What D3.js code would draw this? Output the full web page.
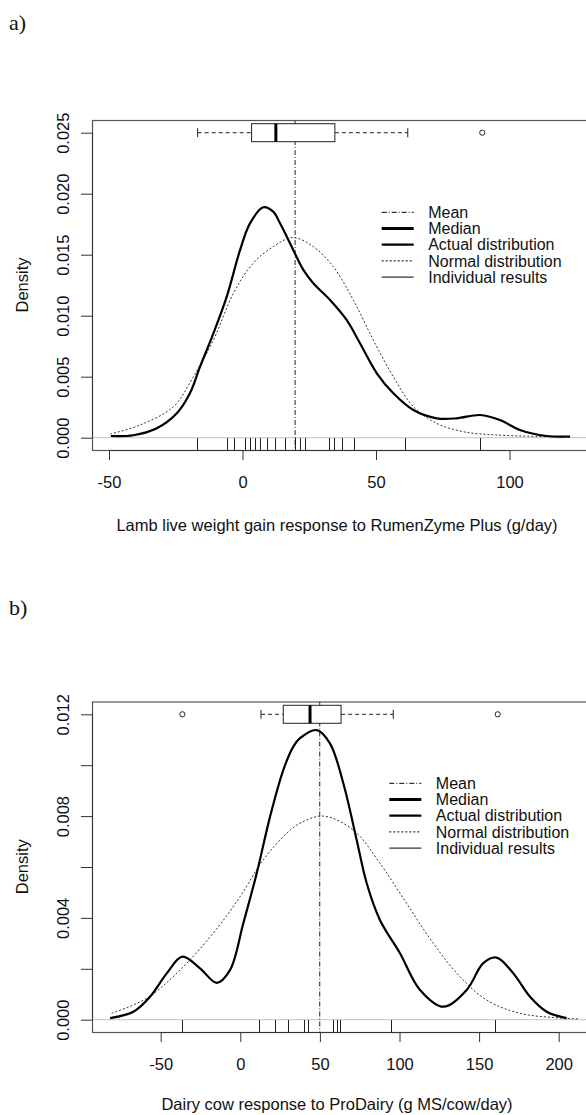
<!DOCTYPE html>
<html>
<head>
<meta charset="utf-8">
<script src="https://cdn.jsdelivr.net/npm/d3@7"></script>
<style>
  body { margin: 0; background: #fff; }
  svg { display: block; }
  text { font-family: "Liberation Sans", Arial, sans-serif; fill: #111; }
</style>
</head>
<body>
<svg id="chart" width="586" height="1115"></svg>
<script>
// ---- panel a) lamb live weight gain ----
const aRug = [-16.9, -5.9, -3.2, 1.0, 2.9, 4.6, 6.4, 9.1, 12.2, 16.0, 19.6, 21.4, 23.3, 32.3, 34.3, 37.3, 41.8, 60.9, 88.8];
const aMean = 19.7;
// whisker low, hinge low, median, hinge high, whisker high
const aBox = [-16.8, 3.4, 12.5, 34.6, 61.9];
const aOutliers = [89.8];
const aDensX = [-49.3, -40.9, -32.1, -24.6, -19.7, -15.9, -10.9, -5.9, -0.9, 2.8, 7.8, 11.5, 14.0, 16.6, 19.0, 22.8, 26.5, 32.8, 39.0, 44.0, 50.3, 56.5, 64.0, 72.7, 80.2, 89.0, 96.4, 103.9, 113.9, 122.7];
const aDensY = [0.00014, 0.0002, 0.00077, 0.002, 0.00364, 0.00582, 0.00856, 0.01156, 0.01539, 0.01757, 0.01889, 0.01853, 0.0176, 0.01648, 0.01539, 0.01375, 0.01266, 0.01129, 0.00965, 0.00774, 0.00528, 0.00364, 0.00227, 0.00159, 0.00159, 0.00186, 0.00145, 0.00063, 0.00014, 0.0001];
const aNormX = [-49.6, -38.4, -25.9, -18.4, -10.9, -3.4, 4.0, 11.5, 19.0, 26.5, 34.0, 41.5, 49.0, 56.5, 64.0, 72.7, 82.7, 95.2, 122.7];
const aNormY = [0.0003, 0.00104, 0.00254, 0.005, 0.008, 0.01184, 0.0143, 0.01566, 0.0164, 0.01566, 0.01402, 0.01129, 0.008, 0.005, 0.00254, 0.00118, 0.00049, 0.00022, 0.00005];
const aXTicks = [-50, 0, 50, 100];
const aYTicks = [0, 0.005, 0.01, 0.015, 0.02, 0.025];
const aYLabels = [0, 0.005, 0.01, 0.015, 0.02, 0.025];

// ---- panel b) dairy cow response ----
const bRug = [-36.4, 11.9, 22.0, 30.0, 40.2, 42.5, 58.2, 60.7, 62.6, 94.8, 160.2];
const bMean = 49.9;
const bBox = [13.0, 27.0, 43.8, 63.3, 96.1];
const bOutliers = [-36.4, 161.7];
const bDensX = [-81.8, -67.2, -56.7, -46.2, -36.4, -25.3, -14.8, -6.5, 1.9, 10.3, 18.7, 27.0, 33.3, 37.5, 48.0, 56.3, 64.7, 73.1, 79.4, 87.7, 100.3, 112.9, 127.5, 142.2, 152.6, 161.0, 171.5, 182.0, 192.5, 205.0];
const bDensY = [0.00006, 0.00031, 0.0009, 0.00182, 0.00248, 0.00202, 0.00145, 0.00195, 0.00379, 0.00575, 0.00798, 0.00981, 0.01073, 0.01106, 0.01138, 0.01086, 0.00929, 0.00706, 0.00536, 0.00392, 0.00261, 0.00117, 0.00051, 0.00117, 0.00222, 0.00244, 0.00182, 0.0009, 0.00031, 0.00006];
const bNormX = [-80.8, -58.8, -37.9, -17.0, -0.2, 14.4, 29.1, 37.5, 52.1, 71.0, 87.7, 104.5, 121.2, 138.0, 154.8, 175.7, 202.9, 213.0];
const bNormY = [0.00025, 0.00084, 0.00195, 0.0034, 0.00483, 0.00628, 0.00732, 0.00772, 0.008, 0.00745, 0.00615, 0.00457, 0.003, 0.00169, 0.00077, 0.00025, 0.00006, 0.00003];
const bXTicks = [-50, 0, 50, 100, 150, 200];
const bYTicks = [0, 0.002, 0.004, 0.006, 0.008, 0.01, 0.012];
const bYLabels = [0, 0.004, 0.008, 0.012];

const legendLabels = ["Mean", "Median", "Actual distribution", "Normal distribution", "Individual results"];
const legendStyles = [
  {w: 1, dash: "5,2,1,2"},
  {w: 3.2, dash: null},
  {w: 2.2, dash: null},
  {w: 1, dash: "2,2"},
  {w: 1, dash: null}
];

const svg = d3.select("#chart");
const fmt = d3.format(".3f");

function drawPanel(p) {
  const g = svg.append("g");
  const x = d3.scaleLinear().domain(p.xDom).range(p.xRange);
  const y = d3.scaleLinear().domain(p.yDom).range(p.yRange);
  const curve = d3.line().x(d => x(d[0])).y(d => y(d[1])).curve(d3.curveCatmullRom.alpha(0.5));

  // panel letter
  g.append("text")
    .attr("x", 9).attr("y", p.letterY)
    .style("font-family", "'Liberation Serif', 'Times New Roman', serif")
    .style("font-size", "22px")
    .text(p.letter);

  // zero line
  g.append("line")
    .attr("x1", p.left).attr("x2", 590)
    .attr("y1", y(0)).attr("y2", y(0))
    .attr("stroke", "#c4c4c4").attr("stroke-width", 1);

  // mean line
  g.append("line")
    .attr("x1", x(p.mean)).attr("x2", x(p.mean))
    .attr("y1", p.top).attr("y2", p.bottom)
    .attr("stroke", "#222").attr("stroke-width", 1)
    .attr("stroke-dasharray", "5,2,1,2");

  // normal curve
  const normPts = p.normX.map((v, i) => [v, p.normY[i]]);
  g.append("path")
    .datum(normPts)
    .attr("fill", "none")
    .attr("stroke", "#333").attr("stroke-width", 1)
    .attr("stroke-dasharray", "2,2")
    .attr("d", curve);

  // actual density
  const densPts = p.densX.map((v, i) => [v, p.densY[i]]);
  g.append("path")
    .datum(densPts)
    .attr("fill", "none")
    .attr("stroke", "#000").attr("stroke-width", 2.2)
    .attr("stroke-linejoin", "round")
    .attr("d", curve);

  // rug
  g.selectAll(".rug").data(p.rug).join("line")
    .attr("x1", d => Math.round(x(d)) + 0.5).attr("x2", d => Math.round(x(d)) + 0.5)
    .attr("y1", p.bottom).attr("y2", p.bottom - 12)
    .attr("stroke", "#222").attr("stroke-width", 1);

  // boxplot
  const by = y(p.yDom[1]);
  const bh = 18;
  const bg = g.append("g").attr("stroke", "#222").attr("stroke-width", 1);
  bg.append("line")
    .attr("x1", x(p.box[0])).attr("x2", x(p.box[1]))
    .attr("y1", by).attr("y2", by).attr("stroke-dasharray", "4,3");
  bg.append("line")
    .attr("x1", x(p.box[3])).attr("x2", x(p.box[4]))
    .attr("y1", by).attr("y2", by).attr("stroke-dasharray", "4,3");
  [p.box[0], p.box[4]].forEach(v => {
    bg.append("line")
      .attr("x1", x(v)).attr("x2", x(v))
      .attr("y1", by - 4.5).attr("y2", by + 4.5);
  });
  bg.append("rect")
    .attr("x", x(p.box[1])).attr("y", by - bh / 2)
    .attr("width", x(p.box[3]) - x(p.box[1])).attr("height", bh)
    .attr("fill", "#fff");
  bg.append("line")
    .attr("x1", x(p.box[2])).attr("x2", x(p.box[2]))
    .attr("y1", by - bh / 2).attr("y2", by + bh / 2)
    .attr("stroke", "#000").attr("stroke-width", 3);
  bg.selectAll("circle").data(p.outliers).join("circle")
    .attr("cx", d => x(d)).attr("cy", by).attr("r", 2.6)
    .attr("fill", "none");

  // plot box
  g.append("rect")
    .attr("x", p.left + 0.5).attr("y", p.top + 0.5)
    .attr("width", 600).attr("height", p.bottom - p.top)
    .attr("fill", "none").attr("stroke", "#555").attr("stroke-width", 1.2);

  // x axis
  const xa = g.append("g")
    .attr("transform", `translate(0,${p.bottom})`)
    .call(d3.axisBottom(x).tickValues(p.xTicks).tickSize(10).tickFormat(d => String(d)));
  xa.select(".domain").attr("stroke", "#333").attr("d", `M${x(p.xTicks[0])},0.5H${x(p.xTicks[p.xTicks.length - 1])}`);
  xa.selectAll(".tick line").attr("stroke", "#333");
  xa.selectAll(".tick text")
    .attr("y", 37.5).attr("dy", null)
    .style("font-size", "16.5px").style("font-family", "'Liberation Sans', Arial, sans-serif").attr("fill", "#111");

  // y axis
  const ya = g.append("g")
    .attr("transform", `translate(${p.left},0)`)
    .call(d3.axisLeft(y).tickValues(p.yTicks).tickSize(11)
      .tickFormat(d => p.yLabels.some(l => Math.abs(l - d) < 1e-9) ? fmt(d) : ""));
  ya.select(".domain").attr("stroke", "#333").attr("d", `M0.5,${y(p.yTicks[0])}V${y(p.yTicks[p.yTicks.length - 1])}`);
  ya.selectAll(".tick line").attr("stroke", "#333");
  ya.selectAll(".tick text")
    .attr("transform", "rotate(-90)")
    .attr("x", 0).attr("y", -(p.left - 63)).attr("dy", "0.35em")
    .attr("text-anchor", "middle")
    .style("font-size", "16.5px").style("font-family", "'Liberation Sans', Arial, sans-serif").attr("fill", "#111");

  // axis titles
  g.append("text")
    .attr("x", 337).attr("y", p.bottom + p.titleOff)
    .attr("text-anchor", "middle")
    .style("font-size", "16.5px")
    .text(p.xTitle);
  g.append("text")
    .attr("transform", `translate(22,${(p.top + p.bottom) / 2}) rotate(-90)`)
    .attr("dy", "0.35em")
    .attr("text-anchor", "middle")
    .style("font-size", "16.5px")
    .text("Density");

  // legend
  const lg = g.append("g");
  legendLabels.forEach((lab, i) => {
    const ly = p.legY + i * 16.2;
    lg.append("line")
      .attr("x1", p.legX).attr("x2", p.legX + 32)
      .attr("y1", ly).attr("y2", ly)
      .attr("stroke", "#000").attr("stroke-width", legendStyles[i].w)
      .attr("stroke-dasharray", legendStyles[i].dash);
    lg.append("text")
      .attr("x", p.legX + 46.5).attr("y", ly).attr("dy", "0.36em")
      .style("font-size", "16px")
      .text(lab);
  });
}

drawPanel({
  letter: "a)", letterY: 30,
  xDom: [-50, 100], xRange: [109, 509.5],
  yDom: [0, 0.025], yRange: [437.7, 132.7],
  left: 92, top: 120, bottom: 450, titleOff: 81,
  rug: aRug, mean: aMean, box: aBox, outliers: aOutliers,
  densX: aDensX, densY: aDensY, normX: aNormX, normY: aNormY,
  xTicks: aXTicks, yTicks: aYTicks, yLabels: aYLabels,
  xTitle: "Lamb live weight gain response to RumenZyme Plus (g/day)",
  legX: 381.7, legY: 212.3
});

drawPanel({
  letter: "b)", letterY: 615,
  xDom: [-50, 200], xRange: [160.7, 558.7],
  yDom: [0, 0.012], yRange: [1019.7, 714.3],
  left: 92, top: 701.5, bottom: 1032, titleOff: 78,
  rug: bRug, mean: bMean, box: bBox, outliers: bOutliers,
  densX: bDensX, densY: bDensY, normX: bNormX, normY: bNormY,
  xTicks: bXTicks, yTicks: bYTicks, yLabels: bYLabels,
  xTitle: "Dairy cow response to ProDairy (g MS/cow/day)",
  legX: 389.3, legY: 783.3
});
</script>
</body>
</html>
